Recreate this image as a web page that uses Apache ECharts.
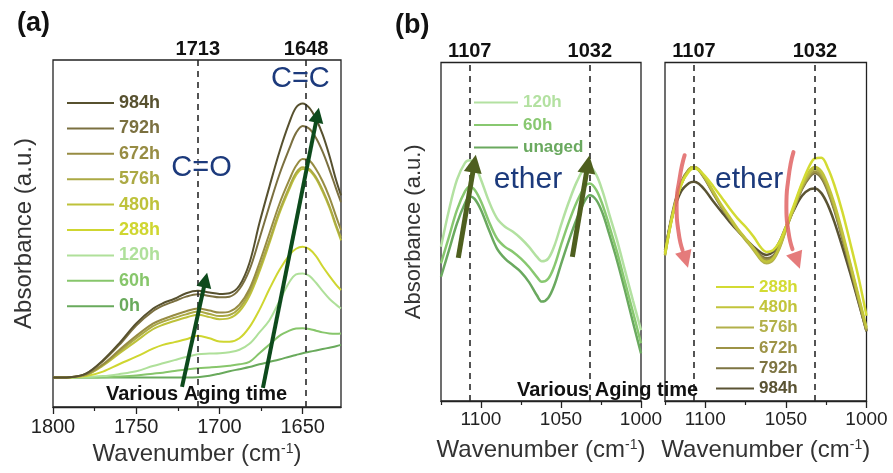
<!DOCTYPE html>
<html><head><meta charset="utf-8">
<script src="https://cdn.jsdelivr.net/npm/echarts@6/dist/echarts.min.js"></script>
<style>html,body{margin:0;padding:0;background:#fff}#c{width:893px;height:473px}</style>
</head><body><div id="c"></div>
<script>
// ---------- data: panel (a) ----------
const wnA = [1800,1790,1780,1770,1760,1750,1740,1734,1727,1720,1713,1706,1700,1694,1688,1682,1676,1670,1664,1658,1654,1650,1646,1642,1638,1634,1630,1627];
const a984 = [8.5,8.6,9.7,13.5,18.5,24.1,28.3,29.9,31.2,32.8,33.5,33,32.6,32.8,35,41.5,53,63.5,73.5,82,86.3,87.5,86.2,83,78.5,72.5,65.5,61];
const a792 = [8.5,8.6,9.6,13.2,18,23.5,27.6,29.2,30.5,31.8,32.5,32,31.6,31.8,34,39.5,48.5,58,67,74.5,79,81,80.2,77.5,73.5,68.5,63,59];
const a672 = [8.5,8.6,9.4,12.3,16.5,20.5,24,25.3,26.5,27.6,28.4,27.8,27.2,27.5,29.5,34,41.5,50,58.5,65.5,69.5,71.5,71,68.5,65,60.5,55,51];
const a576 = [8.5,8.6,9.3,12.1,16,19.8,23.3,24.6,25.7,26.7,27.5,26.8,26.2,26.5,28.5,33,40,48,56.5,63.5,67.5,69.1,68.6,66.2,62.5,58,52.5,48.8];
const a480 = [8.5,8.6,9.2,11.9,15.5,19,22.4,23.7,24.8,25.8,26.6,25.9,25.3,25.6,27.6,32,39,47.2,55.8,62.8,66.8,68.6,68.2,65.8,62,57.5,52,48];
const a288 = [8.5,8.5,8.9,10.2,12.4,14.5,16.8,17.9,18.7,19.5,20.5,19.8,18.9,18.8,19.8,23,28,34,39.5,43.8,45.6,46.2,45.5,43.5,40.5,37.8,35.3,33.7];
const a120 = [8.5,8.5,8.7,8.9,9.5,10.3,11.8,12.6,13.5,14.4,15.2,15.4,15.5,15.8,16.5,18.2,21.5,25,30.5,36,38.2,38.5,37.8,35.8,33.4,31.2,29.5,28.4];
const a60  = [8.5,8.5,8.5,8.6,8.8,9.1,9.6,9.9,10.4,10.8,11.2,11.4,11.6,11.9,12.3,13,15.5,18,20.5,22,22.6,22.7,22.5,22,21.5,21.2,21.1,21.2];
const a0   = [8.5,8.5,8.5,8.5,8.5,8.5,8.5,8.5,8.5,8.5,8.6,9,9.6,10.3,10.9,11.5,12.3,13,13.7,14.5,15,15.5,15.9,16.3,16.7,17.1,17.5,17.9];
const namesA = ['984h','792h','672h','576h','480h','288h','120h','60h','0h'];
const peaksA = [1713, 1648];
const ticksAMajor = [1800, 1750, 1700, 1650];
const ticksAMinor = [1775, 1725, 1675];

// ---------- data: panel (b) ----------
const wnB = [1125,1120,1115,1110,1107,1104,1100,1095,1090,1085,1080,1075,1070,1065,1062,1058,1054,1050,1045,1040,1035,1032,1028,1024,1020,1015,1010,1005,1000];
const b120 = [45,56,65,70,70.8,69.5,65,58.5,53.5,51,49.5,47.5,45,42,40.7,41.5,45.5,51.5,58.5,64.5,68.5,68.8,66.5,61.5,55,47,38,29,20.2];
const b60  = [40.1,48,56,61.5,62.9,62,58.5,52.5,47.5,45,43.5,41.5,39,36,34.6,35.5,39.5,45.5,52.5,58.5,63,63.9,62,57.5,51.5,43.5,34.5,25.5,16.3];
const bUn  = [36.1,44,52,58,60,59.3,56,50,44.5,41.5,39.5,37.5,34.5,30.5,28.7,29.8,33.8,39.8,47,53.5,58.8,60.4,59,55,49,41,32,22.5,13.3];
const b288 = [43,55,63.5,67.5,68.3,67.8,66,63,59.8,56.5,53.5,51,48,44.5,43.5,44,46.5,51,57.5,64,69.5,71.3,71.5,68.5,63.5,55.5,46,36,24.5];
const b480 = [42.5,55,63.5,68,68.8,68,65.5,61.5,57.5,54,50.5,47.5,44.5,41.2,40.6,41.5,45,50.5,57,63.5,67.8,68.8,67.5,63.5,58,49.5,40,30.5,21];
const b576 = [42.5,55,63.5,68,68.8,68,65.3,61.2,57.2,53.6,50,47,44,40.8,40.1,41,44.5,50,56.5,62.8,67.1,68.1,66.8,62.8,57.2,48.8,39.5,30,20.5];
const b672 = [43,55.5,64,68.2,68.8,68,65.2,61,57,53.5,50.2,47.3,44.5,41.8,41.1,41.8,45,50.2,56.5,62.5,66.5,67.4,66,62,56.5,48,39,29.5,20];
const b792 = [43.5,56,64.2,68.2,68.6,67.8,65,60.8,56.8,53.3,50,47.2,44.6,42.2,41.6,42.3,45.5,50.5,56.5,62.2,66,66.9,65.5,61.5,56,47.5,38.5,29,19.8];
const b984 = [44,55,61.5,64,64.4,63.8,61.8,58.5,55.5,52.5,49.8,47.3,45,43.1,42.6,43.5,46.5,51,56,60.2,62.2,62.4,61,57.5,52.5,45,37,28.5,20];
const namesB1 = ['120h','60h','unaged'];
const namesB2 = ['288h','480h','576h','672h','792h','984h'];
const peaksB = [1107, 1032];
const ticksBMajor = [1100, 1050, 1000];
const ticksBMinor = [1125, 1075, 1025];

// ---------- styling ----------
const FF = '"Liberation Sans", Arial, sans-serif';
const colA = {'984h':'#57512f','792h':'#7b7040','672h':'#978c43','576h':'#aba944','480h':'#bec23a','288h':'#cfd630','120h':'#afe09a','60h':'#87c66b','0h':'#69aa5c'};
const colB1 = {'120h':'#b3e1a1','60h':'#88c870','unaged':'#6aa95f'};
const colB2 = {'288h':'#d3db33','480h':'#c2c43b','576h':'#b2b04a','672h':'#9d9346','792h':'#7d7442','984h':'#5a5333'};

const dataA = {'984h':a984,'792h':a792,'672h':a672,'576h':a576,'480h':a480,'288h':a288,'120h':a120,'60h':a60,'0h':a0};
const dataB1 = {'120h':b120,'60h':b60,'unaged':bUn};
const dataB2 = {'288h':b288,'480h':b480,'576h':b576,'672h':b672,'792h':b792,'984h':b984};

const pts = (xs, ys) => xs.map((x, i) => [x, ys[i]]);
const series = [];
function addLines(prefix, names, data, cols, xs, xi, yi, width) {
  names.slice().reverse().forEach(n => {
    series.push({
      type: 'line', name: prefix + ':' + n, xAxisIndex: xi, yAxisIndex: yi,
      data: pts(xs, data[n]), smooth: 0.35, symbol: 'none', showSymbol: false,
      lineStyle: { color: cols[n], width: width }, itemStyle: { color: cols[n] }, z: 3
    });
  });
}
addLines('a', namesA, dataA, colA, wnA, 0, 0, 2);
addLines('b1', namesB1, dataB1, colB1, wnB, 2, 1, 2.5);
addLines('b2', namesB2, dataB2, colB2, wnB, 4, 2, 2.5);

// dashed peak markers with top labels
function peakMarkers(xi, yi, peaks) {
  series.push({
    type: 'line', xAxisIndex: xi, yAxisIndex: yi, data: [], z: 2,
    markLine: {
      silent: true, symbol: 'none', precision: 0,
      lineStyle: { type: [6, 5], color: '#2a2a2a', width: 1.6 },
      label: { show: true, position: 'end', distance: 1, formatter: p => String(p.value),
               fontSize: 20, fontWeight: 'bold', color: '#111', fontFamily: FF },
      data: peaks.map(p => ({ xAxis: p }))
    }
  });
}
peakMarkers(0, 0, peaksA);
peakMarkers(2, 1, peaksB);
peakMarkers(4, 2, peaksB);

// straight arrows (data coordinates)
function arrows(xi, yi, list, color, width, size) {
  series.push({
    type: 'line', xAxisIndex: xi, yAxisIndex: yi, data: [], z: 6,
    markLine: {
      silent: true, symbol: ['none', 'triangle'], symbolSize: size,
      label: { show: false },
      lineStyle: { color: color, width: width, type: 'solid' },
      itemStyle: { color: color },
      data: list.map(l => [{ coord: l[0] }, { coord: l[1] }])
    }
  });
}
// curved arrow shaft (smooth line through data coordinates) + head
function curvedArrow(xi, yi, path, head, color, width, size) {
  series.push({
    type: 'line', xAxisIndex: xi, yAxisIndex: yi, data: path, smooth: 0.6, symbol: 'none', z: 6,
    silent: true, lineStyle: { color: color, width: width, cap: 'round' }
  });
  arrows(xi, yi, [head], color, 0.01, size);
}
arrows(0, 0, [[[1722.5, 5.8], [1708.4, 36.6]]], '#0d4a1c', 4, 15);
arrows(0, 0, [[[1673.9, 5.5], [1641.2, 84.1]]], '#0d4a1c', 4, 15);
arrows(2, 1, [[[1114.2, 41.7], [1104.2, 69.8]], [[1042.9, 42], [1033.2, 69.6]]], '#4e5f1f', 5, 18);
const pink = 'rgba(224,100,100,0.85)';
curvedArrow(4, 2, [[1112.8, 72.3], [1115.9, 65.5], [1117.8, 56.8], [1116.6, 49.4], [1114.1, 44.0]],
  [[1115.3, 46.4], [1112.2, 41.2]], pink, 4, 17);
curvedArrow(4, 2, [[1045.3, 73.2], [1048.4, 65.5], [1049.7, 56.8], [1048.4, 49.4], [1045.9, 44.3]],
  [[1047.2, 46.4], [1043.1, 40.9]], pink, 4, 17);

// text annotations (data coordinates)
function notes(xi, yi, list) {
  series.push({
    type: 'line', xAxisIndex: xi, yAxisIndex: yi, data: [], z: 7,
    markPoint: {
      silent: true, symbol: 'circle', symbolSize: 1, itemStyle: { color: 'rgba(0,0,0,0)' },
      data: list.map(t => ({ coord: t.c, value: t.t,
        label: Object.assign({ show: true, position: 'inside', formatter: t.t, fontFamily: FF }, t.s) }))
    }
  });
}
const navy = { color: '#1c3a7c', fontSize: 29, textShadowColor: 'rgba(255,255,255,0.9)', textShadowBlur: 3 };
notes(0, 0, [
  { c: [1710.8, 68.9], t: 'C=O', s: navy },
  { c: [1651.4, 94.5], t: 'C=C', s: navy },
  { c: [1713.8, 3.5], t: 'Various Aging time', s: { color: '#111', fontSize: 20, fontWeight: 'bold' } }
]);
notes(2, 1, [
  { c: [1070.6, 64.9], t: 'ether', s: Object.assign({}, navy, { fontSize: 30 }) },
  { c: [1020.9, 2.1], t: 'Various Aging time', s: { color: '#111', fontSize: 20, fontWeight: 'bold' } }
]);
notes(4, 2, [
  { c: [1072.8, 64.9], t: 'ether', s: Object.assign({}, navy, { fontSize: 30 }) }
]);

// axes
const xName = '{n|Wavenumber (cm}{s|-1}{n|)}';
const xNameStyle = { rich: { n: { fontSize: 24, color: '#333', fontFamily: FF }, s: { fontSize: 14, color: '#333', fontFamily: FF, verticalAlign: 'top' } } };
function xMajor(gi, min, max, maj, fs, margin, gap) {
  return { type: 'value', gridIndex: gi, min: min, max: max, inverse: true, position: 'bottom',
    axisLine: { show: true, onZero: false, lineStyle: { color: '#222', width: 1.3 } },
    axisTick: { show: true, inside: false, length: 7, customValues: maj, lineStyle: { color: '#222', width: 1.3 } },
    axisLabel: { show: true, customValues: maj, formatter: v => String(v), fontSize: fs, margin: margin, color: '#222', fontFamily: FF },
    splitLine: { show: false },
    name: xName, nameLocation: 'middle', nameGap: gap, nameTextStyle: xNameStyle };
}
function xMinor(gi, min, max, mnr) {
  return { type: 'value', gridIndex: gi, min: min, max: max, inverse: true, position: 'bottom',
    axisLine: { show: false, onZero: false },
    axisTick: { show: true, inside: false, length: 4, customValues: mnr, lineStyle: { color: '#222', width: 1.2 } },
    axisLabel: { show: false }, splitLine: { show: false } };
}
function yAx(gi, min, max, name, fs, gap) {
  return { type: 'value', gridIndex: gi, min: min, max: max,
    axisLine: { show: false, onZero: false }, axisTick: { show: false }, axisLabel: { show: false }, splitLine: { show: false },
    name: name, nameLocation: 'middle', nameRotate: 90, nameGap: gap,
    nameTextStyle: { fontSize: fs, color: '#333', fontFamily: FF } };
}

const legendBase = (left, top, iw, ih, gap, fs, names, cols, prefix) => ({
  orient: 'vertical', left: left, top: top, itemWidth: iw, itemHeight: ih, itemGap: gap,
  selectedMode: false, padding: 0,
  itemStyle: { opacity: 0 },
  formatter: n => n.split(':')[1],
  textStyle: { fontSize: fs, fontWeight: 'bold', fontFamily: FF },
  data: names.map(n => ({ name: prefix + ':' + n, textStyle: { color: cols[n] } }))
});

const option = {
  animation: false,
  backgroundColor: '#fff',
  textStyle: { fontFamily: FF },
  grid: [
    { left: 53, top: 60, width: 288, height: 347, show: true, borderColor: '#222', borderWidth: 1.3, backgroundColor: 'transparent' },
    { left: 441, top: 62.5, width: 200, height: 338.5, show: true, borderColor: '#222', borderWidth: 1.3, backgroundColor: 'transparent' },
    { left: 665, top: 62.5, width: 201.5, height: 338.5, show: true, borderColor: '#222', borderWidth: 1.3, backgroundColor: 'transparent' }
  ],
  xAxis: [
    xMajor(0, 1627, 1800, ticksAMajor, 20, 10, 31),
    xMinor(0, 1627, 1800, ticksAMinor),
    xMajor(1, 1000, 1125, ticksBMajor, 19, 9, 37),
    xMinor(1, 1000, 1125, ticksBMinor),
    xMajor(2, 1000, 1125, ticksBMajor, 19, 9, 37),
    xMinor(2, 1000, 1125, ticksBMinor)
  ],
  yAxis: [
    yAx(0, 0, 100, 'Absorbance (a.u.)', 24, 17),
    yAx(1, -0.9, 99.9, 'Absorbance (a.u.)', 22, 16),
    yAx(2, -0.9, 99.9, '', 22, 16)
  ],
  legend: [
    legendBase(66, 94, 47, 18, 7.4, 18, namesA, colA, 'a'),
    legendBase(473, 94, 44, 17, 5.5, 17, namesB1, colB1, 'b1'),
    legendBase(715, 278.5, 38, 17, 3.3, 17, namesB2, colB2, 'b2')
  ],
  graphic: [
    { type: 'text', left: 17, top: 10, style: { text: '(a)', fontSize: 27, fontWeight: 'bold', fill: '#111', fontFamily: FF } },
    { type: 'text', left: 395, top: 12, style: { text: '(b)', fontSize: 27, fontWeight: 'bold', fill: '#111', fontFamily: FF } }
  ],
  series: series
};
const chart = echarts.init(document.getElementById('c'));
chart.setOption(option);
</script>
</body></html>
